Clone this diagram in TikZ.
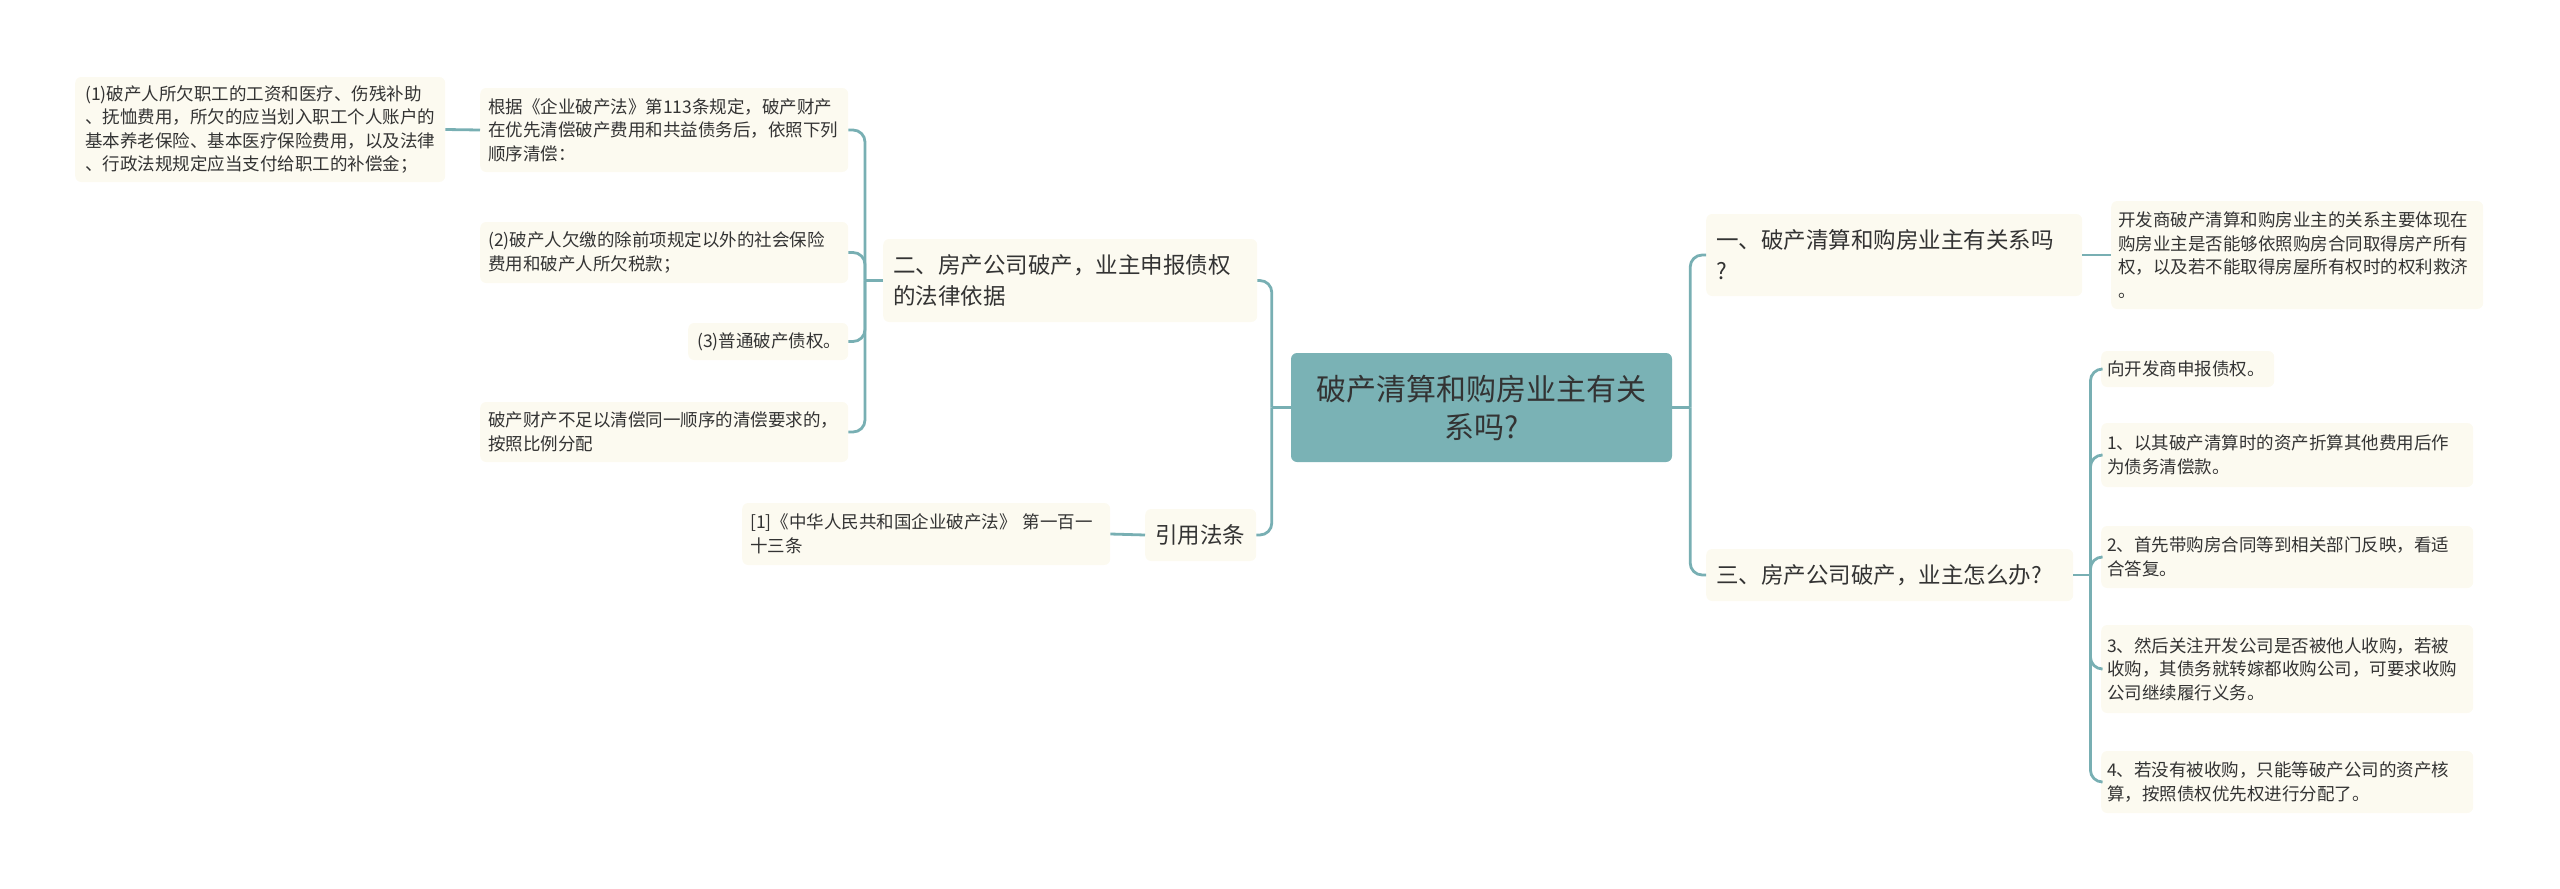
\documentclass[tikz,border=0pt]{standalone}
\usepackage{fontspec}
\newfontfamily\cjk{Noto Sans CJK SC}
\definecolor{teal}{HTML}{7AB2B5}
\definecolor{lineteal}{HTML}{78AFB3}
\definecolor{cream}{HTML}{FCFAF0}
\definecolor{txt}{HTML}{333333}
\begin{document}
\begin{tikzpicture}[x=1pt,y=-1pt,
  box/.style={fill=cream, rounded corners=6pt, inner ysep=0pt, anchor=west, align=left, text=txt},
  leaf/.style={box, font=\cjk\fontsize{17.5}{23.5}\selectfont},
  branch/.style={box, font=\cjk\fontsize{22.5}{31}\selectfont},
  conn/.style={draw=lineteal, line width=2.8pt, rounded corners=12pt}]
\useasboundingbox (0,0) rectangle (2560,889);

% center
\node[fill=teal, rounded corners=6pt, minimum width=381pt, minimum height=109pt, inner sep=0pt,
  align=center, text=txt, font=\cjk\fontsize{30}{38}\selectfont] (c) at (1481.5,407.5)
  {破产清算和购房业主有关\\系吗?};

% left side
\node[branch, inner xsep=10pt, text width=354pt, minimum height=83pt] (er) at (883,280.5)
  {二、房产公司破产，业主申报债权\\的法律依据};
\node[branch, inner xsep=10pt, text width=91pt, minimum height=52pt] (yin) at (1145,535)
  {引用法条};
\node[leaf, inner xsep=8pt, text width=352pt, minimum height=62pt] (ref) at (742,534)
  {[1]《中华人民共和国企业破产法》 第一百一\\十三条};

\node[leaf, inner xsep=8pt, text width=352pt, minimum height=84pt] (l1) at (480,130)
  {根据《企业破产法》第113条规定，破产财产\\在优先清偿破产费用和共益债务后，依照下列\\顺序清偿：};
\node[leaf, inner xsep=10pt, text width=350pt, minimum height=105pt] (far) at (75,129.5)
  {(1)破产人所欠职工的工资和医疗、伤残补助\\、抚恤费用，所欠的应当划入职工个人账户的\\基本养老保险、基本医疗保险费用，以及法律\\、行政法规规定应当支付给职工的补偿金；};
\node[leaf, inner xsep=8pt, text width=352pt, minimum height=61pt] (l2) at (480,252.5)
  {(2)破产人欠缴的除前项规定以外的社会保险\\费用和破产人所欠税款；};
\node[leaf, inner xsep=9pt, text width=142pt, minimum height=37pt] (l3) at (688,341.5)
  {(3)普通破产债权。};
\node[leaf, inner xsep=8pt, text width=352pt, minimum height=60pt] (l4) at (480,432)
  {破产财产不足以清偿同一顺序的清偿要求的，\\按照比例分配};

% right side
\node[branch, inner xsep=10pt, text width=356pt, minimum height=82pt] (r1) at (1706,255)
  {一、破产清算和购房业主有关系吗\\?};
\node[leaf, inner xsep=7pt, text width=358pt, minimum height=108pt] (r1l) at (2111,255)
  {开发商破产清算和购房业主的关系主要体现在\\购房业主是否能够依照购房合同取得房产所有\\权，以及若不能取得房屋所有权时的权利救济\\。};
\node[branch, inner xsep=10pt, text width=347pt, minimum height=52pt] (r3) at (1706,575)
  {三、房产公司破产，业主怎么办?};
\node[leaf, inner xsep=6pt, text width=161pt, minimum height=36pt] (a) at (2101,369)
  {向开发商申报债权。};
\node[leaf, inner xsep=6pt, text width=360pt, minimum height=64pt] (b) at (2101,455)
  {1、以其破产清算时的资产折算其他费用后作\\为债务清偿款。};
\node[leaf, inner xsep=6pt, text width=360pt, minimum height=62pt] (cc) at (2101,557)
  {2、首先带购房合同等到相关部门反映，看适\\合答复。};
\node[leaf, inner xsep=6pt, text width=360pt, minimum height=88pt] (d) at (2101,669)
  {3、然后关注开发公司是否被他人收购，若被\\收购，其债务就转嫁都收购公司，可要求收购\\公司继续履行义务。};
\node[leaf, inner xsep=6pt, text width=360pt, minimum height=62pt] (e) at (2101,782)
  {4、若没有被收购，只能等破产公司的资产核\\算，按照债权优先权进行分配了。};

% connectors left
\draw[conn] (c.west) -- ([xshift=-19pt]c.west);
\draw[conn] ([xshift=-19pt]c.west) |- (er.east);
\draw[conn] ([xshift=-19pt]c.west) |- (yin.east);
\draw[conn] (yin.west) -- (ref.east);
\draw[conn] (er.west) -- ([xshift=-18pt]er.west);
\foreach \n in {l1,l2,l3,l4}
  \draw[conn] ([xshift=-18pt]er.west) |- (\n.east);
\draw[conn] (l1.west) -- (far.east);

% connectors right
\draw[conn] (c.east) -- ([xshift=18pt]c.east);
\draw[conn] ([xshift=18pt]c.east) |- (r1.west);
\draw[conn] ([xshift=18pt]c.east) |- (r3.west);
\draw[conn] (r1.east) -- (r1l.west);
\draw[conn] (r3.east) -- ([xshift=17pt]r3.east);
\foreach \n in {a,b,cc,d,e}
  \draw[conn] ([xshift=17pt]r3.east) |- (\n.west);
\end{tikzpicture}
\end{document}
